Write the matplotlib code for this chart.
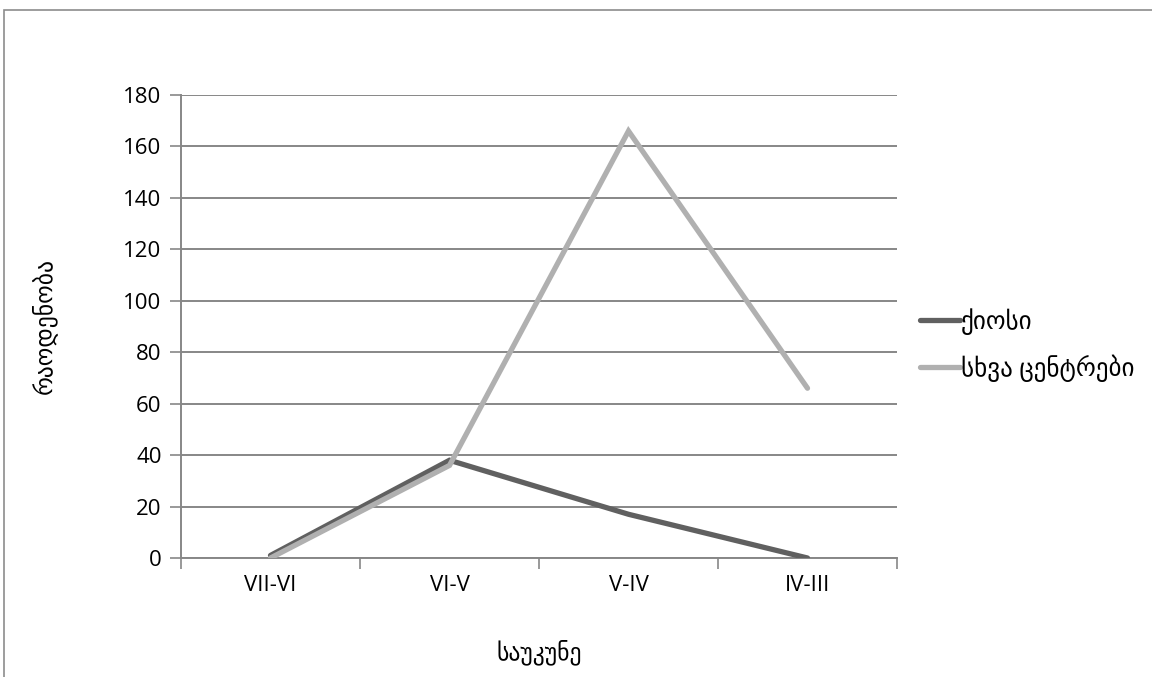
import matplotlib
matplotlib.use("Agg")
import matplotlib.pyplot as plt
from matplotlib.patches import Rectangle
import numpy as np

categories = ["VII-VI", "VI-V", "V-IV", "IV-III"]
kiosi = [1, 38, 17, 0]
other_centers = [0, 36, 166, 66]
series_names = ["ქიოსი", "სხვა ცენტრები"]
y_ticks = [0, 20, 40, 60, 80, 100, 120, 140, 160, 180]

plt.rcParams['font.family'] = ['Open Sans', 'DejaVu Sans']

W, H = 1152, 677
fig = plt.figure(figsize=(W / 100, H / 100), dpi=100)
fig.patch.set_facecolor("white")

# outer chart border
fig.patches.append(Rectangle((4 / W, -0.05), 1.2, 1 - 10 / H + 0.05, transform=fig.transFigure,
                             fill=False, edgecolor="#8c8c8c", linewidth=1.2))

ax = fig.add_axes([181 / W, (H - 558) / H, (897 - 181) / W, (558 - 95) / H])
x = np.arange(len(categories))
grid_c = "#878787"

for v in y_ticks:
    ax.axhline(v, color=grid_c, linewidth=1.4, zorder=1)

ax.plot(x, kiosi, color="#606060", linewidth=3.8, solid_capstyle="round",
        solid_joinstyle="miter", label=series_names[0], zorder=3)
ax.plot(x, other_centers, color="#b0b0b0", linewidth=3.8, solid_capstyle="round",
        solid_joinstyle="miter", label=series_names[1], zorder=4)

ax.set_xlim(-0.5, len(categories) - 0.5)
ax.set_ylim(0, 180)
ax.set_yticks(y_ticks)
ax.set_yticklabels([str(v) for v in y_ticks], fontsize=16)
ax.set_xticks(x)
ax.set_xticklabels(categories, fontsize=16)
ax.tick_params(axis="x", length=0, pad=12)
ax.tick_params(axis="y", length=8, width=1.2, color=grid_c, pad=6)
# boundary tick marks on x axis
ax.set_xticks(np.arange(-0.5, len(categories), 1.0), minor=True)
ax.tick_params(axis="x", which="minor", length=8, width=1.2, color=grid_c)

for s in ["top", "right"]:
    ax.spines[s].set_visible(False)
ax.spines["left"].set_color(grid_c)
ax.spines["left"].set_linewidth(1.4)
ax.spines["bottom"].set_color(grid_c)
ax.spines["bottom"].set_linewidth(1.4)

ax.set_ylabel("რაოდენობა", fontsize=17, labelpad=48)
ax.set_xlabel("საუკუნე", fontsize=17, labelpad=32)

leg = ax.legend(loc="center left", bbox_to_anchor=(1.0, 0.46), frameon=False,
                fontsize=18, handlelength=1.6, handletextpad=0.05, labelspacing=0.8,
                borderaxespad=0.5)

fig.savefig("out.png", dpi=100, facecolor="white")
